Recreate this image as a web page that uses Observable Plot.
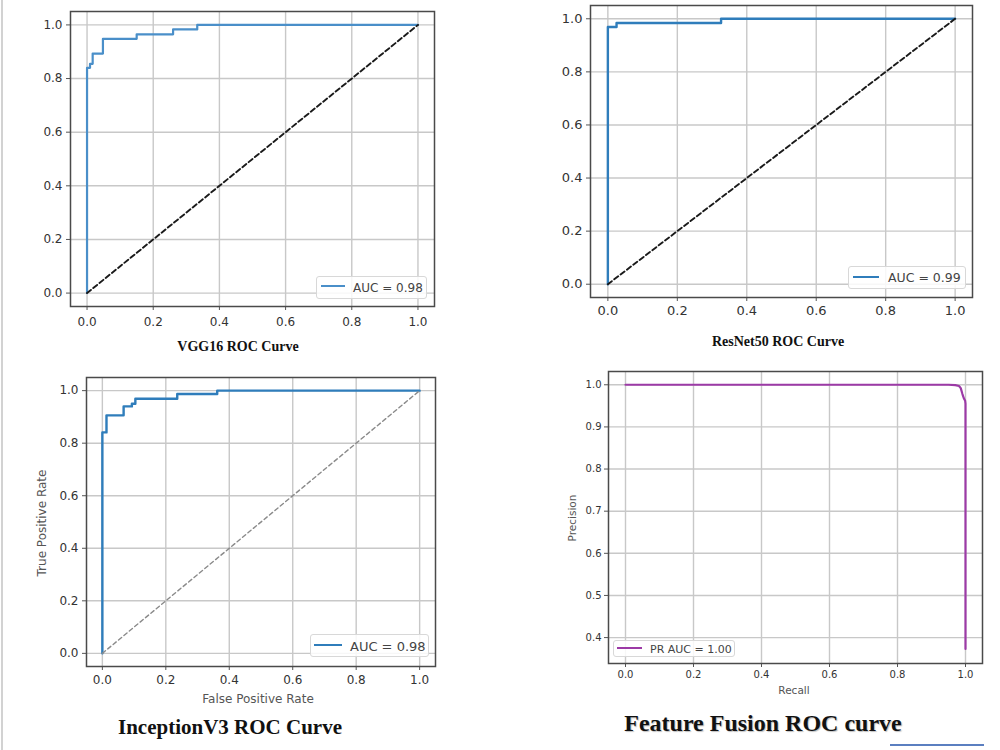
<!DOCTYPE html>
<html><head><meta charset="utf-8">
<script src="https://cdn.jsdelivr.net/npm/d3@7"></script>
<script src="https://cdn.jsdelivr.net/npm/@observablehq/plot@0.6"></script>
<style>
body{margin:0;background:#fff;}
#page{position:relative;width:1000px;height:750px;overflow:hidden;background:#fff;font-family:"DejaVu Sans",sans-serif;}
.title{position:absolute;font-family:"Liberation Serif","Times New Roman",serif;font-weight:bold;color:#111;white-space:nowrap;transform:translate(-50%,-50%);line-height:1;}
.lab{position:absolute;font-family:"DejaVu Sans",sans-serif;color:#555;white-space:nowrap;transform:translate(-50%,-50%);line-height:1;}
.legend{position:absolute;box-sizing:border-box;border:1px solid #d8d8d8;border-radius:3px;background:rgba(255,255,255,0.85);}
.legend .smp{position:absolute;height:2px;}
.legend .txt{position:absolute;top:50%;transform:translateY(-50%);color:#444;white-space:nowrap;line-height:1;font-family:"DejaVu Sans",sans-serif;}
</style></head>
<body><div id="page"></div>
<script>
// ---- data ----
const vggFpr = [0, 0, 0.009, 0.017, 0.048, 0.15, 0.26, 0.333, 1];
const vggTpr = [0, 0.84, 0.855, 0.893, 0.948, 0.965, 0.983, 1, 1];
const resFpr = [0, 0, 0.025, 0.326, 1];
const resTpr = [0, 0.969, 0.984, 1, 1];
const incFpr = [0, 0, 0.013, 0.067, 0.093, 0.104, 0.236, 0.362, 1];
const incTpr = [0, 0.841, 0.906, 0.94, 0.95, 0.969, 0.987, 1, 1];
const prRecall = [0, 0.95, 0.97, 0.981, 0.986, 0.991, 0.995, 0.999, 1.0, 1.0];
const prPrecision = [1, 1, 0.999, 0.997, 0.992, 0.978, 0.968, 0.962, 0.955, 0.373];
const chanceX = [0, 1];
const chanceY = [0, 1];
const rocTicks = [0, 0.2, 0.4, 0.6, 0.8, 1.0];
const prYTicks = [0.4, 0.5, 0.6, 0.7, 0.8, 0.9, 1.0];
const panelTitles = ["VGG16 ROC Curve", "ResNet50 ROC Curve", "InceptionV3 ROC Curve", "Feature Fusion ROC curve"];
const legendLabels = ["AUC = 0.98", "AUC = 0.99", "AUC = 0.98", "PR AUC = 1.00"];
const axisLabels = ["False Positive Rate", "True Positive Rate", "Recall", "Precision"];

const page = document.getElementById("page");
const fmt = d3.format(".1f");

function panel({frame, xDomain, yDomain, xTicks, yTicks, fontSize, xPad, yPad, marks}) {
  const m = {l: 45, r: 8, t: 8, b: 32};
  const W = frame.x1 - frame.x0, H = frame.y1 - frame.y0;
  const svg = Plot.plot({
    width: W + m.l + m.r, height: H + m.t + m.b,
    marginLeft: m.l, marginRight: m.r, marginTop: m.t, marginBottom: m.b,
    x: {domain: xDomain}, y: {domain: yDomain},
    style: {fontFamily: "DejaVu Sans", fontSize: fontSize + "px", color: "#333", background: "transparent", overflow: "visible"},
    marks: [
      Plot.gridX({ticks: xTicks, stroke: "#c8c8c8", strokeOpacity: 1, strokeWidth: 1.4}),
      Plot.gridY({ticks: yTicks, stroke: "#c8c8c8", strokeOpacity: 1, strokeWidth: 1.4}),
      Plot.axisX({ticks: xTicks, tickFormat: fmt, tickSize: 4, tickPadding: xPad, label: null, fontSize, stroke: "#555"}),
      Plot.axisY({ticks: yTicks, tickFormat: fmt, tickSize: 4, tickPadding: yPad, label: null, fontSize, stroke: "#555"}),
      ...marks,
      Plot.frame({stroke: "#4a4a4a", strokeWidth: 1.5})
    ]
  });
  svg.style.position = "absolute";
  svg.style.left = (frame.x0 - m.l) + "px";
  svg.style.top = (frame.y0 - m.t) + "px";
  page.appendChild(svg);
}

function addText(cls, text, x, y, size, extra) {
  const d = document.createElement("div");
  d.className = cls;
  d.textContent = text;
  d.style.left = x + "px";
  d.style.top = y + "px";
  d.style.fontSize = size + "px";
  if (extra) Object.assign(d.style, extra);
  page.appendChild(d);
}

function addLegend(box, sample, textX, size, color, label) {
  const d = document.createElement("div");
  d.className = "legend";
  Object.assign(d.style, {left: box[0] + "px", top: box[1] + "px", width: (box[2] - box[0]) + "px", height: (box[3] - box[1]) + "px"});
  const s = document.createElement("span");
  s.className = "smp";
  Object.assign(s.style, {left: (sample[0] - box[0] - 1) + "px", width: (sample[1] - sample[0]) + "px", top: (sample[2] - box[1] - 2) + "px", background: color});
  const t = document.createElement("span");
  t.className = "txt";
  t.textContent = label;
  Object.assign(t.style, {left: (textX - box[0] - 1) + "px", fontSize: size + "px"});
  d.appendChild(s); d.appendChild(t);
  page.appendChild(d);
}

const rocDomain = [-0.05, 1.05];

// Panel 1: VGG16
panel({
  frame: {x0: 70, x1: 434, y0: 11, y1: 306}, xDomain: rocDomain, yDomain: rocDomain,
  xTicks: rocTicks, yTicks: rocTicks, fontSize: 12, xPad: 7, yPad: 4,
  marks: [
    Plot.line(vggFpr, {x: vggFpr, y: vggTpr, curve: "step-after", stroke: "#4a8fc9", strokeWidth: 2.2}),
    Plot.line(chanceX, {x: chanceX, y: chanceY, stroke: "#1a1a1a", strokeWidth: 1.9, strokeDasharray: "5,3"})
  ]
});
// Panel 2: ResNet50
panel({
  frame: {x0: 590, x1: 972, y0: 5, y1: 297}, xDomain: rocDomain, yDomain: rocDomain,
  xTicks: rocTicks, yTicks: rocTicks, fontSize: 13, xPad: 4, yPad: 4,
  marks: [
    Plot.line(resFpr, {x: resFpr, y: resTpr, curve: "step-after", stroke: "#2f7dbb", strokeWidth: 2.4}),
    Plot.line(chanceX, {x: chanceX, y: chanceY, stroke: "#1a1a1a", strokeWidth: 1.9, strokeDasharray: "5,3"})
  ]
});
// Panel 3: InceptionV3
panel({
  frame: {x0: 86, x1: 435, y0: 377, y1: 666}, xDomain: rocDomain, yDomain: rocDomain,
  xTicks: rocTicks, yTicks: rocTicks, fontSize: 12, xPad: 5, yPad: 4,
  marks: [
    Plot.line(incFpr, {x: incFpr, y: incTpr, curve: "step-after", stroke: "#2f7dbb", strokeWidth: 2.4}),
    Plot.line(chanceX, {x: chanceX, y: chanceY, stroke: "#8a8a8a", strokeWidth: 1.4, strokeDasharray: "4,3"})
  ]
});
// Panel 4: Feature fusion PR
panel({
  frame: {x0: 608, x1: 982, y0: 371, y1: 663}, xDomain: rocDomain, yDomain: [0.3385, 1.0315],
  xTicks: rocTicks, yTicks: prYTicks, fontSize: 10, xPad: 3, yPad: 3,
  marks: [
    Plot.line(prRecall, {x: prRecall, y: prPrecision, stroke: "#9c3aa6", strokeWidth: 2.2})
  ]
});

// titles
addText("title", panelTitles[0], 238, 347, 14);
addText("title", panelTitles[1], 778, 342, 14);
addText("title", panelTitles[2], 230, 727, 21);
addText("title", panelTitles[3], 763, 723, 24, {textShadow: "1px 1px 1px rgba(0,0,0,0.25)"});

// axis labels
addText("lab", axisLabels[0], 258, 699, 12);
addText("lab", axisLabels[1], 42, 523, 12, {transform: "translate(-50%,-50%) rotate(-90deg)"});
addText("lab", axisLabels[2], 794, 690, 10.5);
addText("lab", axisLabels[3], 572, 518, 10.5, {transform: "translate(-50%,-50%) rotate(-90deg)"});

// legends
addLegend([316, 276, 427, 299], [321, 345, 286], 353, 12, "#4a8fc9", legendLabels[0]);
addLegend([848, 266, 966, 289], [853, 879, 277], 888, 12.5, "#2f7dbb", legendLabels[1]);
addLegend([310, 634, 429, 657], [314, 342, 645], 350, 13, "#2f7dbb", legendLabels[2]);
addLegend([613, 640, 735, 657], [617, 642, 648], 650, 11, "#9c3aa6", legendLabels[3]);

// page decorations
const edge = document.createElement("div");
Object.assign(edge.style, {position: "absolute", left: "1px", top: "0px", width: "2px", height: "750px", background: "#d2d2d2"});
page.appendChild(edge);
const rule = document.createElement("div");
Object.assign(rule.style, {position: "absolute", left: "890px", top: "744px", width: "94px", height: "2px", background: "#5b7fc0"});
page.appendChild(rule);
</script>
</body></html>
